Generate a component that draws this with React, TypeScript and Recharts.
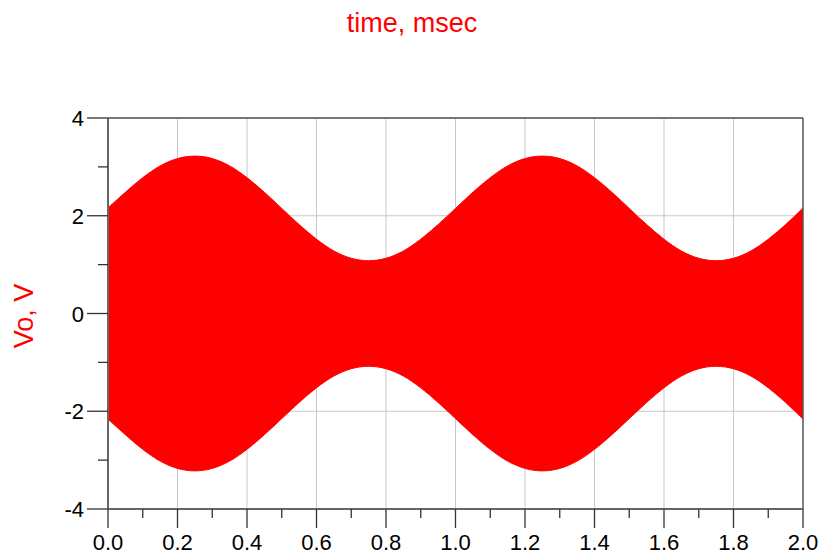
import React from 'react';
import { ComposedChart, Area, XAxis, YAxis, CartesianGrid, ReferenceLine } from 'recharts';

// time points in msec
const timeMs = [
  0, 0.05, 0.1, 0.15, 0.2, 0.25, 0.3, 0.35, 0.4, 0.45,
  0.5, 0.55, 0.6, 0.65, 0.7, 0.75, 0.8, 0.85, 0.9, 0.95,
  1.0, 1.05, 1.1, 1.15, 1.2, 1.25, 1.3, 1.35, 1.4, 1.45,
  1.5, 1.55, 1.6, 1.65, 1.7, 1.75, 1.8, 1.85, 1.9, 1.95, 2.0,
];

// upper envelope of Vo (V)
const voUpper = [
  2.16, 2.48, 2.78, 3.02, 3.17, 3.22, 3.17, 3.02, 2.78, 2.48,
  2.15, 1.82, 1.52, 1.28, 1.13, 1.08, 1.13, 1.28, 1.52, 1.82,
  2.15, 2.48, 2.78, 3.02, 3.17, 3.22, 3.17, 3.02, 2.78, 2.48,
  2.15, 1.82, 1.52, 1.28, 1.13, 1.08, 1.13, 1.28, 1.52, 1.82, 2.16,
];

// lower envelope of Vo (V)
const voLower = [
  -2.16, -2.48, -2.78, -3.02, -3.17, -3.22, -3.17, -3.02, -2.78, -2.48,
  -2.15, -1.82, -1.52, -1.28, -1.13, -1.08, -1.13, -1.28, -1.52, -1.82,
  -2.15, -2.48, -2.78, -3.02, -3.17, -3.22, -3.17, -3.02, -2.78, -2.48,
  -2.15, -1.82, -1.52, -1.28, -1.13, -1.08, -1.13, -1.28, -1.52, -1.82, -2.16,
];

const xTicks = [0, 0.1, 0.2, 0.3, 0.4, 0.5, 0.6, 0.7, 0.8, 0.9, 1.0, 1.1, 1.2, 1.3, 1.4, 1.5, 1.6, 1.7, 1.8, 1.9, 2.0];
const yTicks = [-4, -3, -2, -1, 0, 1, 2, 3, 4];
const xGrid = [0.2, 0.4, 0.6, 0.8, 1.0, 1.2, 1.4, 1.6, 1.8];
const yGrid = [-2, 0, 2];

const data = timeMs.map((t, i) => ({ t, vo: [voLower[i], voUpper[i]] }));

const FONT = '"Liberation Sans", Arial, sans-serif';

const XTick = (props: any) => {
  const { x, y, payload } = props;
  const v = payload.value as number;
  const major = Math.round(v * 10) % 2 === 0;
  return (
    <g>
      <line x1={x} y1={y} x2={x} y2={y + (major ? 19 : 9)} stroke="#333" strokeWidth={1.3} />
      {major && (
        <text x={x} y={y + 41} textAnchor="middle" fontSize={22} fontFamily={FONT} fill="#000">
          {v.toFixed(1)}
        </text>
      )}
    </g>
  );
};

const YTick = (props: any) => {
  const { x, y, payload } = props;
  const v = payload.value as number;
  const major = v % 2 === 0;
  return (
    <g>
      <line x1={x - (major ? 21 : 10)} y1={y} x2={x} y2={y} stroke="#333" strokeWidth={1.3} />
      {major && (
        <text x={x - 24} y={y + 8} textAnchor="end" fontSize={22} fontFamily={FONT} fill="#000">
          {v}
        </text>
      )}
    </g>
  );
};

export default function App() {
  return (
    <div style={{ position: 'absolute', left: 0, top: 0, width: 822, height: 555, background: '#fff' }}>
      <ComposedChart width={822} height={555} data={data} margin={{ top: 118, right: 19, bottom: 0, left: 0 }}>
        <CartesianGrid
          stroke="#c8c8c8"
          horizontalValues={yGrid}
          verticalValues={xGrid}
        />
        <ReferenceLine y={4} stroke="#777" strokeWidth={2} />
        <ReferenceLine x={2} stroke="#555" strokeWidth={1.5} />
        <XAxis
          dataKey="t"
          type="number"
          domain={[0, 2]}
          ticks={xTicks}
          interval={0}
          tickSize={0}
          tickMargin={0}
          tick={<XTick />}
          height={46}
          axisLine={{ stroke: '#666', strokeWidth: 2 }}
        />
        <YAxis
          type="number"
          domain={[-4, 4]}
          ticks={yTicks}
          interval={0}
          tickSize={0}
          tickMargin={0}
          tick={<YTick />}
          width={108}
          axisLine={{ stroke: '#666', strokeWidth: 2 }}
        />
        <Area
          type="monotone"
          dataKey="vo"
          fill="#ff0000"
          fillOpacity={1}
          stroke="#ff0000"
          strokeWidth={1}
          isAnimationActive={false}
          dot={false}
          activeDot={false}
        />
        <text x={412} y={32} textAnchor="middle" fontSize={27} fontFamily={FONT} fill="#ff0000">
          time, msec
        </text>
        <text
          x={33}
          y={316}
          transform="rotate(-90, 33, 316)"
          textAnchor="middle"
          fontSize={27}
          fontFamily={FONT}
          fill="#ff0000"
        >
          Vo, V
        </text>
      </ComposedChart>
    </div>
  );
}
